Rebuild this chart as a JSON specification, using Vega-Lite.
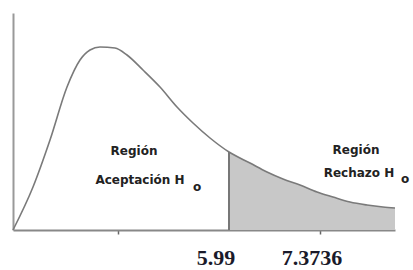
{
  "$schema": "https://vega.github.io/schema/vega-lite/v6.json",
  "width": 382,
  "height": 217,
  "padding": {"left": 13, "top": 13, "right": 18, "bottom": 40},
  "autosize": "none",
  "background": "white",
  "config": {"view": {"stroke": null}},
  "datasets": {
    "curve": [
      {"x": 0, "y": 0}, {"x": 20, "y": 43}, {"x": 37, "y": 90}, {"x": 54, "y": 143},
      {"x": 67, "y": 170}, {"x": 77, "y": 180}, {"x": 87, "y": 183}, {"x": 102, "y": 182},
      {"x": 114, "y": 175}, {"x": 130, "y": 160}, {"x": 147, "y": 143}, {"x": 164, "y": 123},
      {"x": 180, "y": 107}, {"x": 197, "y": 92}, {"x": 216, "y": 78}, {"x": 237, "y": 67},
      {"x": 254, "y": 58}, {"x": 270, "y": 51}, {"x": 287, "y": 45}, {"x": 304, "y": 38},
      {"x": 320, "y": 33}, {"x": 337, "y": 28}, {"x": 354, "y": 25}, {"x": 370, "y": 23},
      {"x": 382, "y": 22}
    ],
    "labels": [
      {"x": 121, "y": 79, "t": "Región", "kind": "region"},
      {"x": 127, "y": 50, "t": "Aceptación H", "kind": "region"},
      {"x": 184, "y": 43, "t": "o", "kind": "region"},
      {"x": 343, "y": 80, "t": "Región", "kind": "region"},
      {"x": 346, "y": 57, "t": "Rechazo H", "kind": "region"},
      {"x": 392, "y": 51, "t": "o", "kind": "region"},
      {"x": 203, "y": -28, "t": "5.99", "kind": "value"},
      {"x": 299, "y": -28, "t": "7.3736", "kind": "value"}
    ]
  },
  "layer": [
    {
      "data": {"name": "curve"},
      "transform": [{"filter": "datum.x >= 216"}],
      "mark": {"type": "area", "color": "#c8c8c8", "opacity": 1, "interpolate": "monotone"},
      "encoding": {
        "x": {"field": "x", "type": "quantitative", "scale": {"domain": [0, 382], "nice": false, "zero": false},
          "axis": {"values": [105, 307], "labels": false, "title": null, "grid": false, "tickSize": 4, "tickColor": "#666", "tickWidth": 1.5, "domainColor": "#888", "domainWidth": 2}},
        "y": {"field": "y", "type": "quantitative", "scale": {"domain": [0, 217], "nice": false},
          "axis": {"labels": false, "ticks": false, "title": null, "grid": false, "domainColor": "#999", "domainWidth": 2}}
      }
    },
    {
      "data": {"name": "curve"},
      "mark": {"type": "line", "color": "#7a7a7a", "strokeWidth": 1.6, "interpolate": "monotone"},
      "encoding": {
        "x": {"field": "x", "type": "quantitative"},
        "y": {"field": "y", "type": "quantitative"}
      }
    },
    {
      "data": {"values": [{"x": 216, "y": 0, "y2": 78}]},
      "mark": {"type": "rule", "color": "#777", "strokeWidth": 2},
      "encoding": {
        "x": {"field": "x", "type": "quantitative"},
        "y": {"field": "y", "type": "quantitative"},
        "y2": {"field": "y2"}
      }
    },
    {
      "data": {"name": "labels"},
      "transform": [{"filter": "datum.kind == 'region'"}],
      "mark": {"type": "text", "font": "DejaVu Sans", "fontWeight": "bold", "fontSize": 12, "letterSpacing": 0.5, "color": "#222", "align": "center", "baseline": "middle"},
      "encoding": {
        "x": {"field": "x", "type": "quantitative"},
        "y": {"field": "y", "type": "quantitative"},
        "text": {"field": "t"}
      }
    },
    {
      "data": {"name": "labels"},
      "transform": [{"filter": "datum.kind == 'value'"}],
      "mark": {"type": "text", "font": "Liberation Serif", "fontWeight": "bold", "fontSize": 22, "color": "#1a1a2a", "align": "center", "baseline": "middle"},
      "encoding": {
        "x": {"field": "x", "type": "quantitative"},
        "y": {"field": "y", "type": "quantitative"},
        "text": {"field": "t"}
      }
    }
  ]
}
